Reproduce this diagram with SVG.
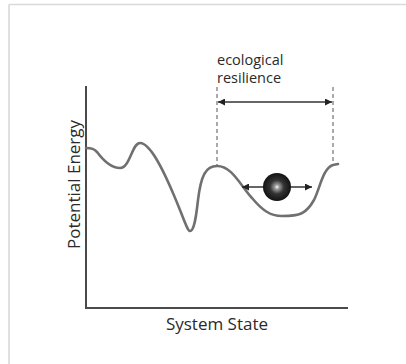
<svg xmlns="http://www.w3.org/2000/svg" width="406" height="364" viewBox="0 0 406 364">
  <style>
    .axis { stroke: #4a4a4a; stroke-width: 2; fill: none; }
    .curve { stroke: #707070; stroke-width: 2.6; fill: none; stroke-linecap: round; stroke-linejoin: round; }
    .dash { stroke: #555; stroke-width: 1; stroke-dasharray: 4 3; fill: none; }
    .arrow { stroke: #333; stroke-width: 1.3; fill: none; }
    .lbl { font-family: "Open Sans", "Liberation Sans", sans-serif; fill: #2a2a2a; }
  </style>
  <defs>
    <marker id="ah" viewBox="0 0 10 10" refX="10" refY="5" markerWidth="9" markerHeight="7" markerUnits="userSpaceOnUse" orient="auto-start-reverse">
      <path d="M0,0 L10,5 L0,10 Z" fill="#222"/>
    </marker>
    <radialGradient id="ball" cx="0.5" cy="0.5" r="0.5">
      <stop offset="0" stop-color="#ffffff"/>
      <stop offset="0.15" stop-color="#a0a0a0"/>
      <stop offset="0.5" stop-color="#333"/>
      <stop offset="1" stop-color="#121212"/>
    </radialGradient>
  </defs>
  <rect width="406" height="364" fill="#fff"/>
  <g id="frame" stroke="#d9d9d9" stroke-width="1.6" fill="none">
    <line x1="9" y1="4.5" x2="406" y2="4.5"/>
    <line x1="9" y1="4.5" x2="9" y2="364"/>
  </g>
  <g id="axes">
    <line class="axis" x1="86" y1="86" x2="86" y2="308"/>
    <line class="axis" x1="85" y1="308" x2="348" y2="308"/>
  </g>
  <g id="landscape">
    <path class="curve" d="M86,148 C92,148 94,149 97,152 C103,160 112,168 120,168 C130,168 132,143 140,143 C152,143 168,180 180,210 C186,225 188,231 190,231 C194,231 196,218 198,200 C201,175 206,166 217,166 C232,166 240,185 252,198 C262,210 270,216 282,216 C300,216 306,214 314,200 C320,188 323,168 333,165 L338,164"/>
  </g>
  <g id="connectors">
    <line class="dash" x1="217" y1="87" x2="217" y2="165"/>
    <line class="dash" x1="333" y1="87" x2="333" y2="164"/>
    <line class="arrow" x1="218" y1="102" x2="332" y2="102" marker-start="url(#ah)" marker-end="url(#ah)"/>
    <line class="arrow" x1="242" y1="187" x2="312" y2="187" marker-start="url(#ah)" marker-end="url(#ah)"/>
  </g>
  <g id="ball-node">
    <circle cx="277" cy="187" r="14" fill="url(#ball)"/>
  </g>
  <g id="labels">
    <text class="lbl" x="217" y="65" font-size="14.5">ecological</text>
    <text class="lbl" x="217" y="83" font-size="14.5">resilience</text>
    <text class="lbl" x="217" y="330" font-size="17" text-anchor="middle">System State</text>
    <text class="lbl" font-size="17" text-anchor="middle" transform="translate(80,184.5) rotate(-90)">Potential Energy</text>
  </g>
</svg>
